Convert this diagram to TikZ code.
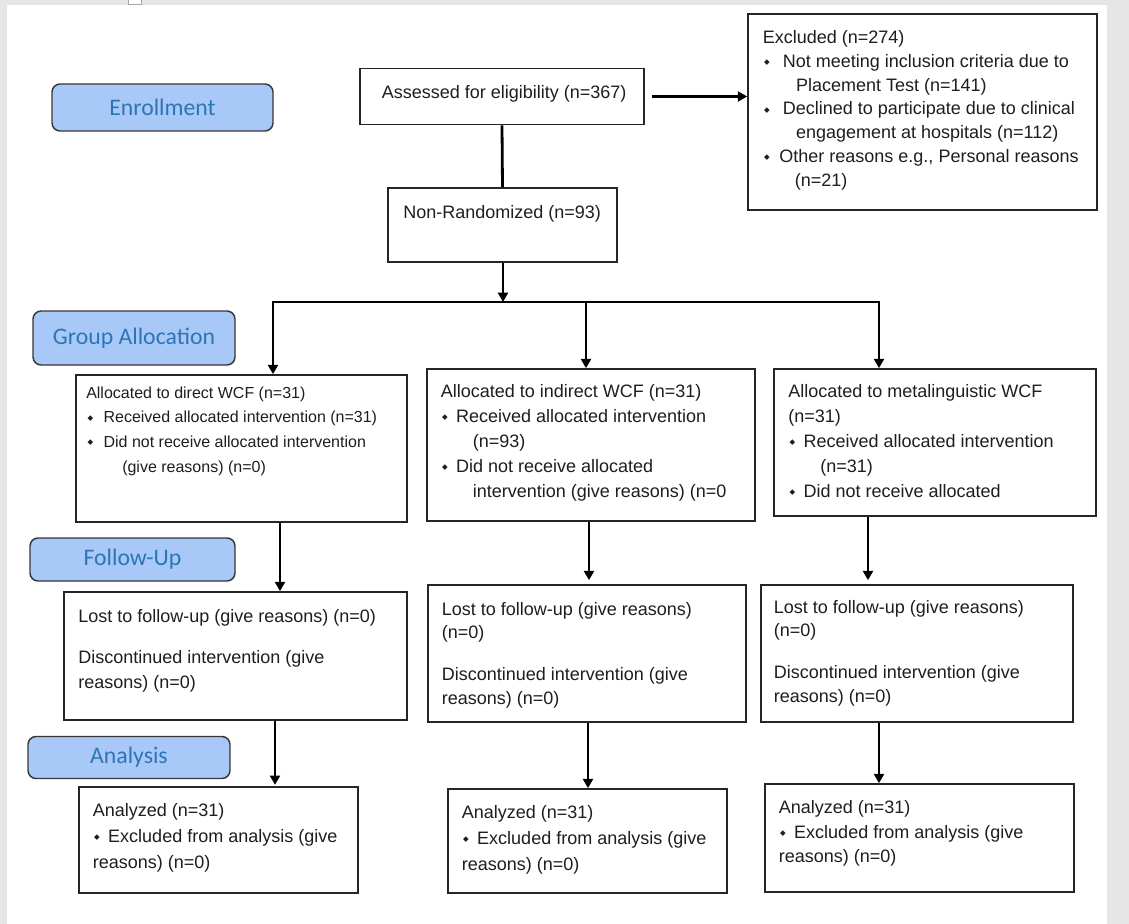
\documentclass[tikz,border=0pt]{standalone}
\usepackage{fontspec}
\setmainfont{Liberation Sans}
\newfontfamily\calib{Carlito}
\newfontfamily\symf{DejaVu Sans}
\usetikzlibrary{arrows.meta}
\definecolor{pagegray}{RGB}{230,230,230}
\definecolor{lblfill}{RGB}{168,200,248}
\definecolor{lbltext}{RGB}{46,117,182}
\definecolor{lbldraw}{RGB}{55,55,55}
\definecolor{txtc}{RGB}{30,30,30}
\newcommand\bl[1][15pt]{\makebox[#1][l]{\hspace{1pt}\raisebox{0.3ex}{\symf\fontsize{5.5}{5.5}\selectfont ◆}}}
\newcommand\ind[1][25pt]{\hspace*{#1}}
\newcommand\tl[1]{\begin{tabular}[t]{@{}l@{}}#1\end{tabular}}
\begin{document}
\begin{tikzpicture}[x=0.75pt,y=-0.75pt,
  bx/.style 2 args={minimum width=#1*0.75pt, minimum height=#2*0.75pt},
  box/.style={draw=black!85, line width=1.25pt, fill=white, inner sep=0pt},
  lbl/.style={draw=lbldraw, line width=1.1pt, fill=lblfill, rounded corners=6pt, inner sep=0pt, text=lbltext, font=\calib\fontsize{17.8}{20}\selectfont},
  txt/.style={anchor=base west, inner sep=0pt, text=txtc, font=\fontsize{13.5}{18.75}\selectfont},
  arr/.style={line width=2.1pt, -{Triangle[length=7pt,width=7.5pt]}},
  ln/.style={line width=2.1pt}]
\useasboundingbox (0,0) rectangle (1129,924);
% page
\fill[pagegray] (0,0) rectangle (1129,924);
\fill[white] (7,5) rectangle (1107,924);
\draw[gray!70, fill=white, line width=0.5pt] (128,-1) rectangle (141,4);
% stage labels
\node[lbl, bx={221}{47}] (lenr) at (162.5,107.5) {Enrollment};
\node[lbl, bx={202}{54}] (lgrp) at (134,338) {Group Allocation};
\node[lbl, bx={205}{43}] (lfol) at (132.5,559.5) {Follow-Up};
\node[lbl, bx={202}{42}] (lana) at (129,757.5) {Analysis};
% boxes
\node[box, bx={284}{56}]  (as) at (502,96.5) {};
\node[box, bx={349}{196}] (ex) at (922.5,112) {};
\node[box, bx={229}{74}]  (nr) at (502.5,225) {};
\node[box, bx={331}{147}] (a1) at (241.5,448.5) {};
\node[box, bx={328}{152}] (a2) at (591,445) {};
\node[box, bx={322}{147}] (a3) at (935,442.5) {};
\node[box, bx={343}{128}] (f1) at (235.5,656) {};
\node[box, bx={318}{137}] (f2) at (587,653.5) {};
\node[box, bx={312}{137}] (f3) at (917,653.5) {};
\node[box, bx={279}{106}] (n1) at (218.5,840) {};
\node[box, bx={279}{104}] (n2) at (587.5,841) {};
\node[box, bx={309}{108}] (n3) at (919.5,838) {};
% texts
\node[txt] (ast) at (381.5,98.5) {Assessed for eligibility (n=367)};
\node[txt] (nrt) at (403,218.5) {Non-Randomized (n=93)};
\node[txt, font=\fontsize{13.5}{17.85}\selectfont] (ext) at (762.5,43.5) {\tl{Excluded (n=274)\\
\bl Not meeting inclusion criteria due to\\
\ind Placement Test (n=141)\\
\bl Declined to participate due to clinical\\
\ind engagement at hospitals (n=112)\\
\bl[12.5pt]Other reasons e.g., Personal reasons\\
\ind[24pt](n=21)}};
\node[txt, font=\fontsize{12}{18.5}\selectfont] (a1t) at (86,398) {\tl{Allocated to direct WCF (n=31)\\
\bl[13pt]Received allocated intervention (n=31)\\
\bl[13pt]Did not receive allocated intervention\\
\ind[27pt](give reasons) (n=0)}};
\node[txt] (a2t) at (440.5,397) {\tl{Allocated to indirect WCF (n=31)\\
\bl[11.5pt]Received allocated intervention\\
\ind[24pt](n=93)\\
\bl[11.5pt]Did not receive allocated\\
\ind[24pt]intervention (give reasons) (n=0}};
\node[txt] (a3t) at (788,397) {\tl{Allocated to metalinguistic WCF\\
(n=31)\\
\bl[11.5pt]Received allocated intervention\\
\ind[24pt](n=31)\\
\bl[11.5pt]Did not receive allocated}};
\node[txt] (f1t) at (78,622) {\tl{Lost to follow-up (give reasons) (n=0)\\[12pt]
Discontinued intervention (give\\
reasons) (n=0)}};
\node[txt, font=\fontsize{13.5}{17.6}\selectfont] (f2t) at (441.5,615) {\tl{Lost to follow-up (give reasons)\\
(n=0)\\[14pt]
Discontinued intervention (give\\
reasons) (n=0)}};
\node[txt, font=\fontsize{13.5}{17.6}\selectfont] (f3t) at (773.5,613) {\tl{Lost to follow-up (give reasons)\\
(n=0)\\[14pt]
Discontinued intervention (give\\
reasons) (n=0)}};
\node[txt, font=\fontsize{13.5}{19.5}\selectfont] (n1t) at (92.5,816) {\tl{Analyzed (n=31)\\
\bl[11.6pt]Excluded from analysis (give\\
reasons) (n=0)}};
\node[txt, font=\fontsize{13.5}{19.5}\selectfont] (n2t) at (461.5,818.5) {\tl{Analyzed (n=31)\\
\bl[11.6pt]Excluded from analysis (give\\
reasons) (n=0)}};
\node[txt, font=\fontsize{13.5}{18.5}\selectfont] (n3t) at (778.5,813.5) {\tl{Analyzed (n=31)\\
\bl[11.6pt]Excluded from analysis (give\\
reasons) (n=0)}};
% connectors
\coordinate (jc) at (503,302);
\coordinate (jl) at (273,302);
\coordinate (jm) at (586,302);
\coordinate (jr) at (879,302);
\draw[arr] ([xshift=5pt]as.east) -- (ex.west |- as.east);
\draw[ln] (as.south) -- (nr.north);
\draw[arr] (nr.south -| jc) -- (jc);
\draw[arr] (jc) -| (a1.north -| jl);
\draw[arr] (jc) -| (a3.north -| jr);
\draw[arr] (jm) -- (a2.north -| jm);
\coordinate (c1) at (280,0);
\coordinate (c2) at (589,0);
\coordinate (c3) at (868,0);
\coordinate (d1) at (275,0);
\coordinate (d2) at (588,0);
\coordinate (d3) at (879,0);
\draw[arr] (a1.south -| c1) -- (f1.north -| c1);
\draw[arr] (a2.south -| c2) -- ([yshift=3pt]f2.north -| c2);
\draw[arr] (a3.south -| c3) -- ([yshift=3pt]f3.north -| c3);
\draw[arr] (f1.south -| d1) -- ([yshift=1pt]n1.north -| d1);
\draw[arr] (f2.south -| d2) -- (n2.north -| d2);
\draw[arr] (f3.south -| d3) -- (n3.north -| d3);
\end{tikzpicture}
\end{document}
